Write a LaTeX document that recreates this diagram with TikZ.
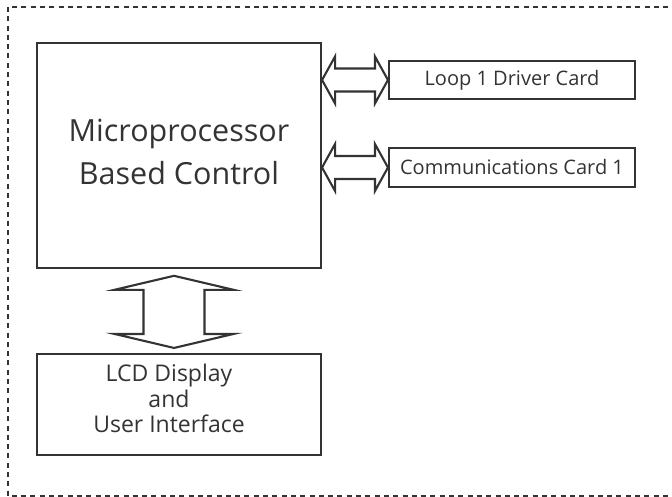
\documentclass[tikz,border=0pt]{standalone}
\usepackage{fontspec}
\setmainfont{Open Sans}
\usetikzlibrary{calc}
\definecolor{ink}{HTML}{333333}

\begin{document}
\begin{tikzpicture}[x = 1pt, y = -1pt, line join = miter,
		box/.style = {draw = ink, line width = 2.1pt, rectangle, inner sep = 0, text = ink, align = center},
		inbox/.style = {text = ink, align = center, inner sep = 0},
		bigarrow/.style = {draw = ink, line width = 2.1pt, fill = white},
		frame/.style = {draw = ink, line width = 1.5pt, dash pattern = on 5pt off 4.3pt}]
	\useasboundingbox (0, 0) rectangle (672, 497);
	\draw [frame] (8, 7) rectangle (700, 496);

	\node [box, minimum width = 284, minimum height = 224.7, label = {[inbox, yshift = 3.5pt, font = \fontsize{30.5}{43.3}\selectfont]center:{Microprocessor\\Based Control}}] (main) at (179, 155.4) {};
	\node [box, minimum width = 246, minimum height = 38, font = \fontsize{20}{24}\selectfont] (loop) at (512, 80) {Loop 1 Driver Card};
	\node [box, minimum width = 246, minimum height = 39, font = \fontsize{20}{24}\selectfont] (comm) at (512, 167.5) {Communications Card 1};
	\node [box, minimum width = 284, minimum height = 101, label = {[inbox, xshift = -10pt, yshift = 6pt, font = \fontsize{23}{25.5}\selectfont]center:{LCD Display\\and\\User Interface}}] (lcd) at (179, 404.5) {};

	\draw [bigarrow] (main.east |- loop.west) -- ++(13, -23.5) -- ++(0, 12) -- ($(loop.west) + (-13, -11.5)$) -- ++(0, -12) -- (loop.west) -- ++(-13, 23.5) -- ++(0, -12) -- ($(main.east |- loop.west) + (13, 11.5)$) -- ++(0, 12) -- cycle;
	\draw [bigarrow] (main.east |- comm.west) -- ++(13, -23.5) -- ++(0, 12) -- ($(comm.west) + (-13, -11.5)$) -- ++(0, -12) -- (comm.west) -- ++(-13, 23.5) -- ++(0, -12) -- ($(main.east |- comm.west) + (13, 11.5)$) -- ++(0, 12) -- cycle;

	\coordinate (vt) at ($(main.south) + (-5, 7)$);
	\coordinate (vb) at ($(lcd.north) + (-5, -5)$);
	\draw [bigarrow] (vt) -- ++(59.5, 14) -- ++(-29, 0) -- ($(vb) + (30.5, -14)$) -- ++(29, 0) -- (vb) -- ++(-59.5, -14) -- ++(29, 0) -- ($(vt) + (-30.5, 14)$) -- ++(-29, 0) -- cycle;
\end{tikzpicture}
\end{document}
